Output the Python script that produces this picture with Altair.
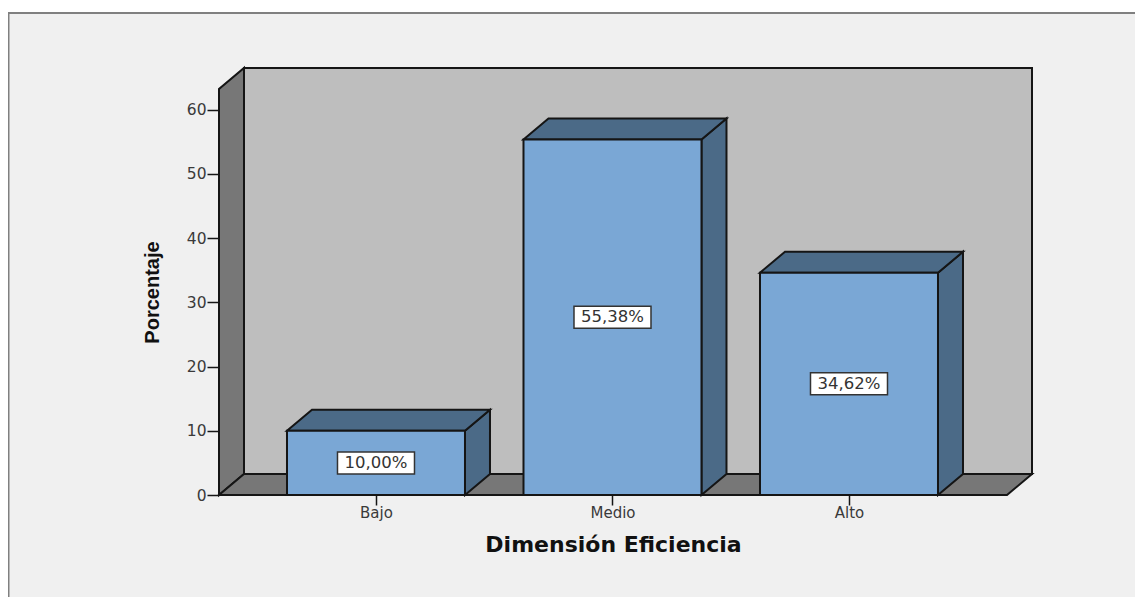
import altair as alt
import pandas as pd

categories = ["Bajo", "Medio", "Alto"]
values = [10.00, 55.38, 34.62]
labels = ["10,00%", "55,38%", "34,62%"]
y_ticks = [0, 10, 20, 30, 40, 50, 60]
x_title = "Dimensión Eficiencia"
y_title = "Porcentaje"

# chart geometry, in scale units
HALF = 0.3763
DX, DY = 0.1057, 3.27
XMIN, XMAX = -0.6638, 2.7738
YMAX = 66.51
WALL_TOP = YMAX - DY
FLOOR_R = XMAX - DX

BLUE, DARK_BLUE, WALL, BACK, PANEL, INK = "#7aa7d5", "#4b6a87", "#777777", "#bebebe", "#f0f0f0", "#151515"
TEXT = "#3a3a3a"
CW, CH = 1127, 589

idx = list(range(len(categories)))
bars = pd.DataFrame({"i": idx, "cat": categories, "v": values, "label": labels})
bars["x0"] = bars.i - HALF
bars["x1"] = bars.i + HALF
bars["mid"] = bars.v / 2

side_rows, top_rows = [], []
for i, v in zip(idx, values):
    x0, x1 = i - HALF, i + HALF
    side_rows += [dict(b=i, x=x1, y=0, y2=v), dict(b=i, x=x1 + DX, y=DY, y2=v + DY)]
    top_rows += [dict(b=i, x=x0, y=v, y2=v), dict(b=i, x=x0 + DX, y=v, y2=v + DY),
                 dict(b=i, x=x1, y=v, y2=v + DY), dict(b=i, x=x1 + DX, y=v + DY, y2=v + DY)]
side = pd.DataFrame(side_rows)
top = pd.DataFrame(top_rows)
wall = pd.DataFrame([dict(b=0, x=XMIN, y=0, y2=WALL_TOP), dict(b=0, x=XMIN + DX, y=DY, y2=YMAX)])
floor = pd.DataFrame([dict(b=0, x=XMIN, y=0, y2=0), dict(b=0, x=XMIN + DX, y=0, y2=DY),
                      dict(b=0, x=FLOOR_R, y=0, y2=DY), dict(b=0, x=XMAX, y=DY, y2=DY)])
back = pd.DataFrame([dict(x=XMIN + DX, x2=XMAX, y=DY, y2=YMAX)])

x_scale = alt.Scale(domain=[XMIN, XMAX], nice=False, zero=False)
y_scale = alt.Scale(domain=[0, YMAX], nice=False, zero=False)
label_expr = "[" + ",".join(f"'{c}'" for c in categories) + "][datum.value]"
x_axis = alt.Axis(values=idx, labelExpr=label_expr, title=x_title, grid=False, domain=False,
                  tickSize=10, tickColor=INK, tickWidth=1.5, labelFont="DejaVu Sans", labelFontSize=15,
                  labelColor=TEXT, labelPadding=0, labelFlush=False, titleFont="DejaVu Sans", titleFontSize=22,
                  titleFontWeight="bold", titleColor="#111111", titlePadding=14, titleX=394, zindex=1)
y_axis = alt.Axis(values=y_ticks, title=y_title, grid=False, domain=False, tickSize=12, tickColor=INK,
                  tickWidth=1.5, labelFont="DejaVu Sans", labelFontSize=15.5, labelColor=TEXT, labelPadding=1,
                  titleFont="Liberation Sans", titleFontSize=20, titleFontWeight="bold",
                  titleColor="#111111", titlePadding=24, titleY=224, zindex=1)

X = alt.X("x:Q", scale=x_scale, axis=x_axis)
Y = alt.Y("y:Q", scale=y_scale, axis=y_axis, stack=None)

# figure panel and its frame
W, H = 813, 427
L, T = 211, 60
one = pd.DataFrame({"a": [0]})
panel = alt.Chart(one).mark_rect(fill=PANEL).encode(
    x=alt.value(-L), x2=alt.value(CW - L), y=alt.value(13 - 8 - T), y2=alt.value(CH - T))
frame_top = alt.Chart(one).mark_rule(color="#808080", strokeWidth=2).encode(
    x=alt.value(-L), x2=alt.value(CW - L), y=alt.value(13 - 8 - T))
frame_left = alt.Chart(one).mark_rule(color="#808080", strokeWidth=2).encode(
    x=alt.value(-L + 0.5), y=alt.value(13 - 8 - T), y2=alt.value(CH - T))

stroke = dict(stroke=INK, strokeWidth=2, strokeJoin="miter")
back_l = alt.Chart(back).mark_rect(fill=BACK, **stroke).encode(
    x=X, x2="x2:Q", y=Y, y2="y2:Q")


def face(df, fill):
    return alt.Chart(df).mark_area(fill=fill, opacity=1, **stroke).encode(
        x=X, y=Y, y2="y2:Q", detail="b:N")


front = alt.Chart(bars).mark_rect(fill=BLUE, **stroke).encode(
    x=alt.X("x0:Q", scale=x_scale, axis=x_axis), x2="x1:Q",
    y=alt.Y("v:Q", scale=y_scale, axis=y_axis), y2=alt.datum(0))
box = alt.Chart(bars).mark_rect(fill="white", stroke="#333333", strokeWidth=1.5, width=77, height=22).encode(
    x=alt.X("i:Q", scale=x_scale, axis=x_axis), y=alt.Y("mid:Q", scale=y_scale, axis=y_axis))
text = alt.Chart(bars).mark_text(font="DejaVu Sans", fontSize=16.5, color="#333333", align="center", baseline="middle").encode(
    x=alt.X("i:Q", scale=x_scale, axis=x_axis), y=alt.Y("mid:Q", scale=y_scale, axis=y_axis), text="label:N")

chart = alt.layer(
    panel, frame_top, frame_left, back_l, face(wall, WALL), face(floor, WALL),
    face(side, DARK_BLUE), face(top, DARK_BLUE), front, box, text,
).properties(
    width=W, height=H,
    padding={"left": L, "top": T, "right": CW - L - W, "bottom": CH - T - H},
    autosize=alt.AutoSizeParams(type="none"),
    background="white",
).configure_view(stroke=None)

chart.save("out.html", embed_options={"renderer": "svg", "actions": False})
